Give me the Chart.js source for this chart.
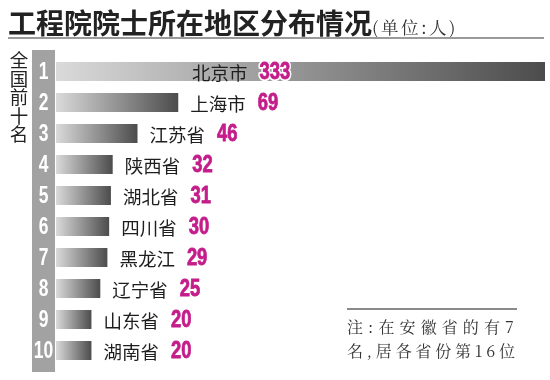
<!DOCTYPE html>
<html>
<head>
<meta charset="utf-8">
<script src="https://cdn.jsdelivr.net/npm/chart.js@4"></script>
<style>
  html, body { margin:0; padding:0; background:#fff; }
  #wrap { position:relative; width:550px; height:380px; overflow:hidden; background:#fff; }
  #wrap canvas { position:absolute; left:0; top:0; }
  .title { position:absolute; left:8px; top:8px; font-family:"Noto Sans CJK SC"; font-weight:700; font-size:28px; line-height:28px; color:#222; white-space:nowrap; }
  .title .unit { font-family:"Noto Serif CJK SC","Liberation Serif","Noto Sans CJK SC"; font-weight:400; font-size:17.5px; letter-spacing:2.5px; color:#333; }
  .rule { position:absolute; left:8px; top:37px; width:536px; height:2px; background:#9a9a9a; }
  .side { position:absolute; left:9px; top:51px; writing-mode:vertical-rl; font-family:"Noto Sans CJK SC"; font-size:18.5px; line-height:19px; color:#222; }
  .noteRule { position:absolute; left:347px; top:308px; width:170px; height:2px; background:#8a8a8a; }
  .note { position:absolute; left:347px; font-family:"Noto Serif CJK SC","Liberation Serif","Noto Sans CJK SC"; font-size:16px; line-height:18px; color:#333; white-space:nowrap; }
</style>
</head>
<body>
<div id="wrap">
  <canvas id="c" width="550" height="380"></canvas>
  <div class="title">工程院院士所在地区分布情况<span class="unit">(单位:人)</span></div>
  <div class="rule"></div>
  <div class="side">全国前十名</div>
  <div class="noteRule"></div>
  <div class="note" style="top:318px;letter-spacing:5.1px;">注:在安徽省的有7</div>
  <div class="note" style="top:342px;letter-spacing:3.8px;">名,居各省份第16位</div>
</div>
<script>
const categories = ['北京市','上海市','江苏省','陕西省','湖北省','四川省','黑龙江','辽宁省','山东省','湖南省'];
const ranks = ['1','2','3','4','5','6','7','8','9','10'];
const values = [333, 69, 46, 32, 31, 30, 29, 25, 20, 20];
const axisMax = 276;

const magenta = '#c41d8a';

function barGradient(ctx) {
  const chart = ctx.chart;
  const area = chart.chartArea;
  if (!area || !chart.scales.x) return '#888';
  const xs = chart.scales.x;
  const x0 = xs.getPixelForValue(0);
  const x1 = Math.min(xs.getPixelForValue(ctx.raw), area.right);
  if (!isFinite(x0) || !isFinite(x1) || x1 <= x0) return '#888';
  const g = chart.ctx.createLinearGradient(x0, 0, x1, 0);
  g.addColorStop(0, '#dadada');
  g.addColorStop(1, '#4c4c4c');
  return g;
}

const bandPlugin = {
  id: 'band',
  beforeDatasetsDraw(chart) {
    const { ctx, chartArea } = chart;
    const ys = chart.scales.y;
    ctx.save();
    ctx.fillStyle = '#a2a2a2';
    ctx.fillRect(ys.left, chartArea.top - 6, chartArea.left - 1 - ys.left, chartArea.bottom - chartArea.top + 12);
    const cx = (ys.left + chartArea.left - 1) / 2;
    ys.ticks.forEach((t, i) => {
      const y = ys.getPixelForTick(i) + 1.5;
      ctx.save();
      ctx.translate(cx, y);
      ctx.scale(0.76, 1);
      ctx.font = '700 23px "Liberation Sans"';
      ctx.fillStyle = '#ffffff';
      ctx.textAlign = 'center';
      ctx.textBaseline = 'middle';
      ctx.fillText(t.label, 0, 0);
      ctx.restore();
    });
    ctx.restore();
  }
};

const labelPlugin = {
  id: 'valueLabels',
  afterDatasetsDraw(chart) {
    const { ctx, chartArea } = chart;
    const meta = chart.getDatasetMeta(0);
    ctx.save();
    meta.data.forEach((el, i) => {
      const clipped = el.x > chartArea.right;
      let nameX = clipped ? chartArea.left + (chartArea.right - chartArea.left) * 0.278 : el.x + 12;
      const y = el.y + 1;
      ctx.font = '400 18.5px "Noto Sans CJK SC"';
      ctx.fillStyle = '#1e1e1e';
      ctx.textAlign = 'left';
      ctx.textBaseline = 'middle';
      ctx.fillText(categories[i], nameX, y);
      const w = ctx.measureText(categories[i]).width;
      const vx = nameX + w + 12;
      ctx.save();
      ctx.translate(vx, y);
      ctx.scale(0.8, 1);
      ctx.font = '700 23px "Liberation Sans"';
      ctx.textBaseline = 'middle';
      const txt = String(values[i]);
      if (clipped) {
        ctx.lineWidth = 4.5;
        ctx.lineJoin = 'round';
        ctx.strokeStyle = '#ffffff';
        ctx.strokeText(txt, 0, 0);
      }
      ctx.fillStyle = magenta;
      ctx.fillText(txt, 0, 0);
      ctx.lineWidth = 0.8;
      ctx.strokeStyle = magenta;
      ctx.strokeText(txt, 0, 0);
      ctx.restore();
    });
    ctx.restore();
  }
};

new Chart(document.getElementById('c'), {
  type: 'bar',
  data: {
    labels: categories,
    datasets: [{
      data: values,
      backgroundColor: barGradient,
      borderWidth: 0,
      barPercentage: 0.62,
      categoryPercentage: 1.0
    }]
  },
  options: {
    indexAxis: 'y',
    responsive: false,
    animation: false,
    events: [],
    layout: { padding: { left: 32, right: 5, top: 56, bottom: 14 } },
    plugins: { legend: { display: false }, tooltip: { enabled: false }, title: { display: false } },
    scales: {
      x: { display: false, min: 0, max: axisMax },
      y: {
        display: true,
        afterFit(scale) { scale.width = 24; },
        grid: { display: false, drawTicks: false },
        border: { display: false },
        ticks: {
          padding: 0,
          color: 'rgba(0,0,0,0)',
          font: { family: "'Liberation Sans'", weight: 'bold', size: 19 },
          callback: (v, i) => ranks[i]
        }
      }
    }
  },
  plugins: [bandPlugin, labelPlugin]
});
</script>
</body>
</html>
